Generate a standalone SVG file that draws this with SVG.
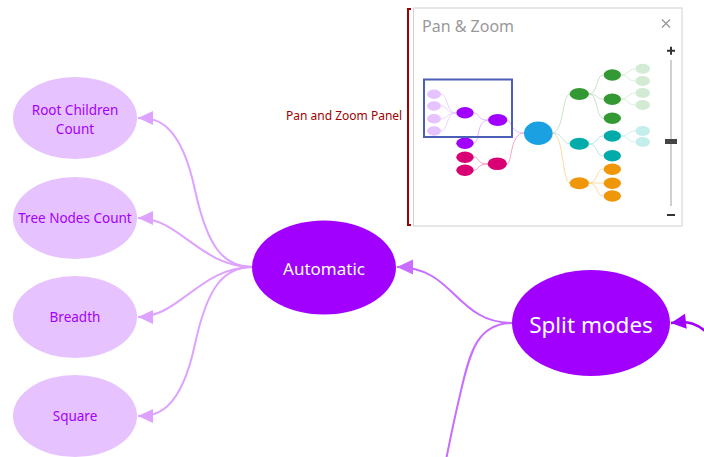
<svg xmlns="http://www.w3.org/2000/svg" width="704" height="457" viewBox="0 0 704 457">
<style>
.t{font-family:"Segoe UI","Noto Sans","Open Sans",sans-serif;text-anchor:middle}
.leaf{fill:#e6c2ff}
.lt{fill:#a100ff;font-size:13.5px}
.c1{fill:none;stroke:#dda3ff;stroke-width:2}
.c2{fill:none;stroke:#c86dff;stroke-width:2}
.c3{fill:none;stroke:#a100ff;stroke-width:2.5}
.m{fill:none;stroke-width:0.8}
</style>
<defs>
<marker id="a1" markerUnits="userSpaceOnUse" markerWidth="16" markerHeight="16" refX="0" refY="7" orient="auto" viewBox="0 0 16 14"><path d="M0,7 L15,0 L15,14 Z" fill="#dda3ff"/></marker>
<marker id="a2" markerUnits="userSpaceOnUse" markerWidth="17" markerHeight="16" refX="0" refY="7.5" orient="auto" viewBox="0 0 17 15"><path d="M0,7.5 L16,0 L16,15 Z" fill="#c86dff"/></marker>
<marker id="a3" markerUnits="userSpaceOnUse" markerWidth="16" markerHeight="16" refX="0" refY="7" orient="auto" viewBox="0 0 15 14"><path d="M0,7 L14,0 L14,14 Z" fill="#a100ff"/></marker>
</defs>
<rect width="704" height="457" fill="#ffffff"/>

<g id="connectors">
<path class="c1" d="M138,118 C155,118 180,120 195,190 C208,250 225,267 253,267" marker-start="url(#a1)"/>
<path class="c1" d="M138,218 C180,218 200,267 253,267" marker-start="url(#a1)"/>
<path class="c1" d="M138,317 C180,317 200,267 253,267" marker-start="url(#a1)"/>
<path class="c1" d="M138,416 C155,416 180,414 195,344 C208,284 225,267 253,267" marker-start="url(#a1)"/>
<path class="c2" d="M397,267 C455,267 455,323 513,323" marker-start="url(#a2)"/>
<path class="c2" d="M513,323 C478,323 470,350 460,395 C454,420 450,440 446,460"/>
<path class="c3" d="M671,323 C688,321 698,322 712,338" marker-start="url(#a3)"/>
</g>

<g id="node-root-children-count">
<ellipse class="leaf" cx="75" cy="118" rx="62" ry="41"/>
<text class="t lt" x="75" y="115">Root Children</text>
<text class="t lt" x="75" y="134">Count</text>
</g>
<g id="node-tree-nodes-count">
<ellipse class="leaf" cx="75" cy="218" rx="62" ry="41"/>
<text class="t lt" x="75" y="223">Tree Nodes Count</text>
</g>
<g id="node-breadth">
<ellipse class="leaf" cx="75" cy="317" rx="62" ry="41"/>
<text class="t lt" x="75" y="322">Breadth</text>
</g>
<g id="node-square">
<ellipse class="leaf" cx="75" cy="416" rx="62" ry="41"/>
<text class="t lt" x="75" y="421">Square</text>
</g>
<g id="node-automatic">
<ellipse cx="324" cy="267.5" rx="72" ry="47" fill="#a100ff"/>
<text class="t" x="324" y="275" fill="#ffffff" font-size="17">Automatic</text>
</g>
<g id="node-split-modes">
<ellipse cx="591" cy="323" rx="79" ry="53" fill="#a100ff"/>
<text class="t" x="591" y="333" fill="#ffffff" font-size="22.5">Split modes</text>
</g>

<g id="pan-zoom-label">
<path d="M411,9 L408,9 L408,225 L411,225" fill="none" stroke="#a00000" stroke-width="2"/>
<text x="286" y="120" font-family="'Segoe UI','Noto Sans',sans-serif" font-size="12" fill="#a00000">Pan and Zoom Panel</text>
</g>

<g id="pan-zoom-panel">
<rect x="413.5" y="8" width="268.5" height="218" fill="#ffffff" stroke="#d0d0d0" stroke-width="1"/>
<text x="422" y="31.5" font-family="'Segoe UI','Noto Sans',sans-serif" font-size="16" fill="#999999">Pan &amp; Zoom</text>
<path d="M662,19.5 L670,27.5 M670,19.5 L662,27.5" stroke="#999999" stroke-width="1.4"/>
<path d="M667,50.7 L675,50.7 M671,46.7 L671,54.7" stroke="#333333" stroke-width="2"/>
<line x1="671" y1="60" x2="671" y2="206" stroke="#d0d0d0" stroke-width="2"/>
<rect x="665" y="139" width="12" height="5" fill="#444444"/>
<line x1="667" y1="215" x2="675" y2="215" stroke="#333333" stroke-width="2"/>

<g id="minimap">
<g class="m">
<path d="M524,133 C510,133 512,120 507,120" stroke="#e0a8ff"/>
<path d="M524,133 C510,133 512,164 507,164" stroke="#f08cc0"/>
<path d="M488,120 C476,120 480,113 474,113" stroke="#e0a8ff"/>
<path d="M488,120 C476,120 480,143 474,143" stroke="#e0a8ff"/>
<path d="M456,113 C446,113 448,94 441,94" stroke="#e8c8ff"/>
<path d="M456,113 C446,113 448,106 441,106" stroke="#e8c8ff"/>
<path d="M456,113 C446,113 448,119 441,119" stroke="#e8c8ff"/>
<path d="M456,113 C446,113 448,131 441,131" stroke="#e8c8ff"/>
<path d="M488,164 C476,164 480,157 474,157" stroke="#f08cc0"/>
<path d="M488,164 C476,164 480,170 474,170" stroke="#f08cc0"/>
<path d="M552,133 C564,133 562,94 570,94" stroke="#b8dcb8"/>
<path d="M552,133 C564,133 562,144 570,144" stroke="#a8e0de"/>
<path d="M552,133 C564,133 562,183 570,183" stroke="#fad08c"/>
<path d="M589,94 C598,94 596,75 603,75" stroke="#b8dcb8"/>
<path d="M589,94 C598,94 596,99 603,99" stroke="#b8dcb8"/>
<path d="M589,94 C598,94 596,118 603,118" stroke="#b8dcb8"/>
<path d="M621,75 C628,75 628,69 635,69" stroke="#cfe8cf"/>
<path d="M621,75 C628,75 628,81 635,81" stroke="#cfe8cf"/>
<path d="M621,99 C628,99 628,93 635,93" stroke="#cfe8cf"/>
<path d="M621,99 C628,99 628,105 635,105" stroke="#cfe8cf"/>
<path d="M589,144 C598,144 596,136 603,136" stroke="#a8e0de"/>
<path d="M589,144 C598,144 596,156 603,156" stroke="#a8e0de"/>
<path d="M621,136 C628,136 628,131 635,131" stroke="#c0ecea"/>
<path d="M621,136 C628,136 628,142 635,142" stroke="#c0ecea"/>
<path d="M589,183 C598,183 596,169 603,169" stroke="#fad08c"/>
<path d="M589,183 C598,183 596,183 603,183" stroke="#fad08c"/>
<path d="M589,183 C598,183 596,196 603,196" stroke="#fad08c"/>
</g>
<ellipse cx="538.3" cy="133.3" rx="14.3" ry="11.7" fill="#1ba1e2"/>
<ellipse cx="497.7" cy="120" rx="9.7" ry="6" fill="#a100ff"/>
<ellipse cx="465" cy="112.7" rx="8.7" ry="5.7" fill="#a100ff"/>
<ellipse cx="465" cy="143.3" rx="8.7" ry="5.7" fill="#a100ff"/>
<ellipse cx="434" cy="94.3" rx="7" ry="4.7" fill="#e6c2ff"/>
<ellipse cx="434" cy="106" rx="7" ry="4.7" fill="#e6c2ff"/>
<ellipse cx="434" cy="118.7" rx="7" ry="4.7" fill="#e6c2ff"/>
<ellipse cx="434" cy="131" rx="7" ry="4.7" fill="#e6c2ff"/>
<ellipse cx="497.3" cy="163.7" rx="9.7" ry="6.3" fill="#d80073"/>
<ellipse cx="465" cy="157.3" rx="8.7" ry="5.7" fill="#d80073"/>
<ellipse cx="465" cy="170.3" rx="8.7" ry="5.7" fill="#d80073"/>
<ellipse cx="579.3" cy="94" rx="9.7" ry="6" fill="#339933"/>
<ellipse cx="612.3" cy="75" rx="8.7" ry="5.7" fill="#339933"/>
<ellipse cx="612.3" cy="99.3" rx="8.7" ry="5.7" fill="#339933"/>
<ellipse cx="612.3" cy="118.3" rx="8.7" ry="5.7" fill="#339933"/>
<ellipse cx="642.7" cy="68.7" rx="7.3" ry="5" fill="#d3ebd3"/>
<ellipse cx="642.7" cy="81" rx="7.3" ry="5" fill="#d3ebd3"/>
<ellipse cx="642.7" cy="93" rx="7.3" ry="5" fill="#d3ebd3"/>
<ellipse cx="642.7" cy="105" rx="7.3" ry="5" fill="#d3ebd3"/>
<ellipse cx="579.3" cy="143.7" rx="9.7" ry="6" fill="#00aba9"/>
<ellipse cx="612.3" cy="136" rx="8.7" ry="5.7" fill="#00aba9"/>
<ellipse cx="612.3" cy="155.7" rx="8.7" ry="5.7" fill="#00aba9"/>
<ellipse cx="642.7" cy="131" rx="7.3" ry="5" fill="#c4eeec"/>
<ellipse cx="642.7" cy="142" rx="7.3" ry="5" fill="#c4eeec"/>
<ellipse cx="579.3" cy="183.3" rx="9.7" ry="6" fill="#f09609"/>
<ellipse cx="612.3" cy="169.3" rx="8.7" ry="5.7" fill="#f09609"/>
<ellipse cx="612.3" cy="183.3" rx="8.7" ry="5.7" fill="#f09609"/>
<ellipse cx="612.3" cy="196" rx="8.7" ry="5.7" fill="#f09609"/>
<rect x="424" y="79.5" width="88" height="57.5" fill="none" stroke="#4a5fb5" stroke-width="2"/>
</g>
</g>
</svg>
